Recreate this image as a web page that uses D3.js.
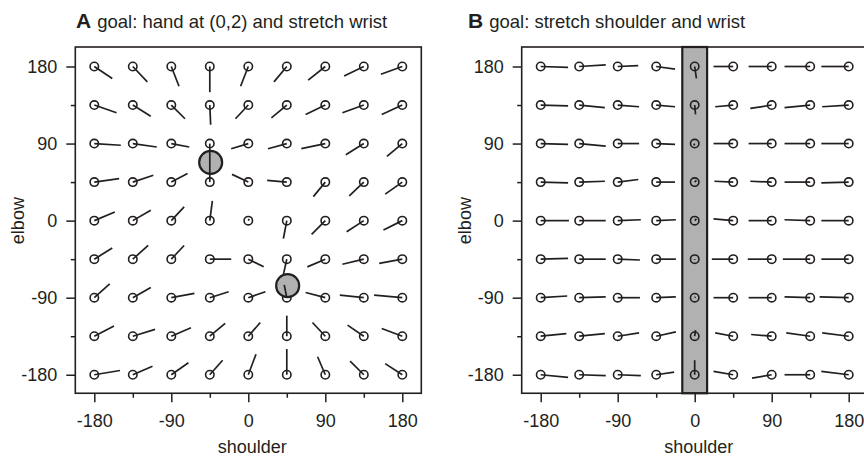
<!DOCTYPE html>
<html>
<head>
<meta charset="utf-8">
<script src="https://cdn.jsdelivr.net/npm/d3@7"></script>
<style>
  body { margin: 0; background: #fff; }
  svg { display: block; font-family: "Liberation Sans", Arial, sans-serif; }
</style>
</head>
<body>
<svg id="chart" width="864" height="456"></svg>
<script>
// grid of joint angles (degrees)
const shoulder = [-180, -135, -90, -45, 0, 45, 90, 135, 180];
const elbow = [180, 135, 90, 45, 0, -45, -90, -135, -180]; // rows, top to bottom
const majorTicks = [-180, -90, 0, 90, 180];
const minorTicks = [-135, -45, 45, 135];

// panel A: vector components per grid point (rows follow `elbow`, columns follow `shoulder`)
const dShoulderA = [
    [21, 17, 9, 0, -9, -15, -20, -23, -25],
    [26, 21, 16, 1, -15, -18, -23, -25, -24],
    [31, 28, 21, 0, -20, -22, -28, -21, -18],
    [29, 24, 19, 0, -19, -23, -14, -17, -20],
    [24, 21, 15, 3, 1, -4, -16, -20, -22],
    [21, 18, 15, 25, 18, -4, -21, -25, -27],
    [18, 21, 27, 22, 20, -3, -23, -28, -33],
    [23, 26, 23, 18, 14, 0, -15, -19, -24],
    [30, 23, 20, 15, 9, 0, -9, -16, -20]
];
const dElbowA = [
    [-14, -18, -23, -30, -23, -18, -16, -11, -9],
    [-9, -13, -16, -23, -16, -15, -11, -9, -11],
    [-2, -4, -4, -25, -6, -6, -6, -13, -15],
    [4, 8, 10, 20, 9, 2, -17, -16, -14],
    [10, 12, 16, 23, 2, -21, -16, -13, -11],
    [13, 16, 16, 0, -9, -18, -9, -6, -5],
    [16, 12, 5, 7, 7, 15, 6, 3, 3],
    [12, 8, 10, 15, 16, 24, 16, 13, 9],
    [5, 10, 14, 17, 24, 30, 21, 16, 13]
];
// panel A: goal postures (grey discs)
const goalShoulder = [-44, 46];
const goalElbow = [68, -76];

// panel B
const dShoulderB = [
    [32, 31, 24, 22, 2, -23, -27, -30, -32],
    [32, 30, 25, 22, 1, -21, -25, -30, -31],
    [32, 31, 25, 22, -1, -23, -27, -30, -32],
    [32, 30, 24, 22, 2, -22, -25, -30, -32],
    [33, 31, 27, 23, 2, -23, -27, -30, -32],
    [32, 31, 26, 23, 0, -25, -28, -32, -32],
    [31, 31, 26, 23, 1, -23, -27, -30, -34],
    [30, 30, 25, 23, 1, -21, -24, -28, -31],
    [32, 31, 27, 21, 0, -23, -23, -30, -32]
];
const dElbowB = [
    [-1, 2, 1, -3, -14, 0, 0, 0, 0],
    [-1, -3, -2, -2, -11, -2, -4, -3, -2],
    [-1, -3, 0, -1, -2, 0, 0, 0, 0],
    [-1, 1, 3, 0, 2, 1, 1, 0, -1],
    [0, 0, 1, 1, 2, 2, 0, 1, 0],
    [1, 0, -1, 0, -1, 0, 0, 0, 0],
    [2, 1, 0, 1, 1, 0, 0, 1, 1],
    [3, 3, 4, 5, 7, 4, 2, 4, 4],
    [-3, -1, -1, 3, 17, 4, -4, 0, 4]
];
// panel B: fixed shoulder band
const bandShoulder = [-14.5, 14.5];

const ink = '#231f20';
const grey = '#b1b1b1';
const svg = d3.select('#chart');

const y = d3.scaleLinear()
    .domain([-180, 180])
    .range([374.75, 66.5]);

function panel(left, letter, title, dS, dE, extra) {
    const x = d3.scaleLinear()
        .domain([-180, 180])
        .range([left, left + 308]);

    const frame = {
        x0: x(-180) - 19,
        x1: x(180) + 19,
        y0: y(180) - 19.5,
        y1: y(-180) + 18.5
    };

    const g = svg.append('g');

    if (extra) extra(g, x, frame);

    // axes (plain hyphen for negatives, like the original)
    const fmt = d => String(d);
    g.append('g').attr('transform', `translate(0, ${frame.y1})`)
        .call(d3.axisBottom(x).tickValues(majorTicks).tickSize(9).tickPadding(12).tickFormat(fmt));
    g.append('g').attr('transform', `translate(0, ${frame.y1})`)
        .call(d3.axisBottom(x).tickValues(minorTicks).tickSize(4.5).tickFormat(''));
    g.append('g').attr('transform', `translate(${frame.x0}, 0)`)
        .call(d3.axisLeft(y).tickValues(majorTicks).tickSize(9).tickPadding(9).tickFormat(fmt));
    g.append('g').attr('transform', `translate(${frame.x0}, 0)`)
        .call(d3.axisLeft(y).tickValues(minorTicks).tickSize(4.5).tickFormat(''));
    g.selectAll('.domain').remove();
    g.selectAll('.tick line').attr('stroke', ink).attr('stroke-width', 1.5);
    g.selectAll('.tick text')
        .attr('fill', ink)
        .attr('font-size', 18)
        .attr('font-family', '"Liberation Sans", Arial, sans-serif');

    // frame
    g.append('rect')
        .attr('x', frame.x0)
        .attr('y', frame.y0)
        .attr('width', frame.x1 - frame.x0)
        .attr('height', frame.y1 - frame.y0)
        .attr('fill', 'none')
        .attr('stroke', ink)
        .attr('stroke-width', 1.6);

    // vectors
    const pts = [];
    elbow.forEach((e, i) => {
        shoulder.forEach((s, j) => {
            pts.push({ s: s, e: e, ds: dS[i][j], de: dE[i][j] });
        });
    });

    g.append('g')
        .selectAll('circle')
        .data(pts)
        .enter()
        .append('circle')
        .attr('cx', d => x(d.s))
        .attr('cy', d => y(d.e))
        .attr('r', 4.2)
        .attr('fill', 'none')
        .attr('stroke', ink)
        .attr('stroke-width', 1.6);

    if (extra && extra.after) extra.after(g, x, frame);

    g.append('g')
        .selectAll('line')
        .data(pts)
        .enter()
        .append('line')
        .attr('x1', d => x(d.s))
        .attr('y1', d => y(d.e))
        .attr('x2', d => x(d.s + d.ds))
        .attr('y2', d => y(d.e + d.de))
        .attr('stroke', ink)
        .attr('stroke-width', 1.7);

    // labels
    g.append('text')
        .attr('x', (frame.x0 + frame.x1) / 2 + 4)
        .attr('y', 453)
        .attr('text-anchor', 'middle')
        .attr('font-size', 18)
        .attr('fill', ink)
        .text('shoulder');

    g.append('text')
        .attr('transform', `translate(${frame.x0 - 51}, ${y(0)}) rotate(-90)`)
        .attr('text-anchor', 'middle')
        .attr('font-size', 18)
        .attr('fill', ink)
        .text('elbow');

    const t = g.append('text')
        .attr('x', letter.x)
        .attr('y', 28)
        .attr('fill', ink);
    t.append('tspan')
        .attr('font-weight', 'bold')
        .attr('font-size', 21)
        .text(letter.name);
    t.append('tspan')
        .attr('dx', 6)
        .attr('font-size', 18.5)
        .text(title);
}

function goalsA(g) {}
goalsA.after = function (g, x) {
    g.append('g')
        .selectAll('circle')
        .data(goalShoulder.map((s, i) => ({ s: s, e: goalElbow[i] })))
        .enter()
        .append('circle')
        .attr('cx', d => x(d.s))
        .attr('cy', d => y(d.e))
        .attr('r', 11.5)
        .attr('fill', grey)
        .attr('stroke', ink)
        .attr('stroke-width', 2.2);
};

function bandB(g, x, frame) {
    g.append('rect')
        .attr('x', x(bandShoulder[0]))
        .attr('y', frame.y0)
        .attr('width', x(bandShoulder[1]) - x(bandShoulder[0]))
        .attr('height', frame.y1 - frame.y0)
        .attr('fill', grey)
        .attr('stroke', ink)
        .attr('stroke-width', 2.2);
}

panel(94.3, { name: 'A', x: 76 }, 'goal: hand at (0,2) and stretch wrist', dShoulderA, dElbowA, goalsA);
panel(540.7, { name: 'B', x: 468 }, 'goal: stretch shoulder and wrist', dShoulderB, dElbowB, bandB);
</script>
</body>
</html>
